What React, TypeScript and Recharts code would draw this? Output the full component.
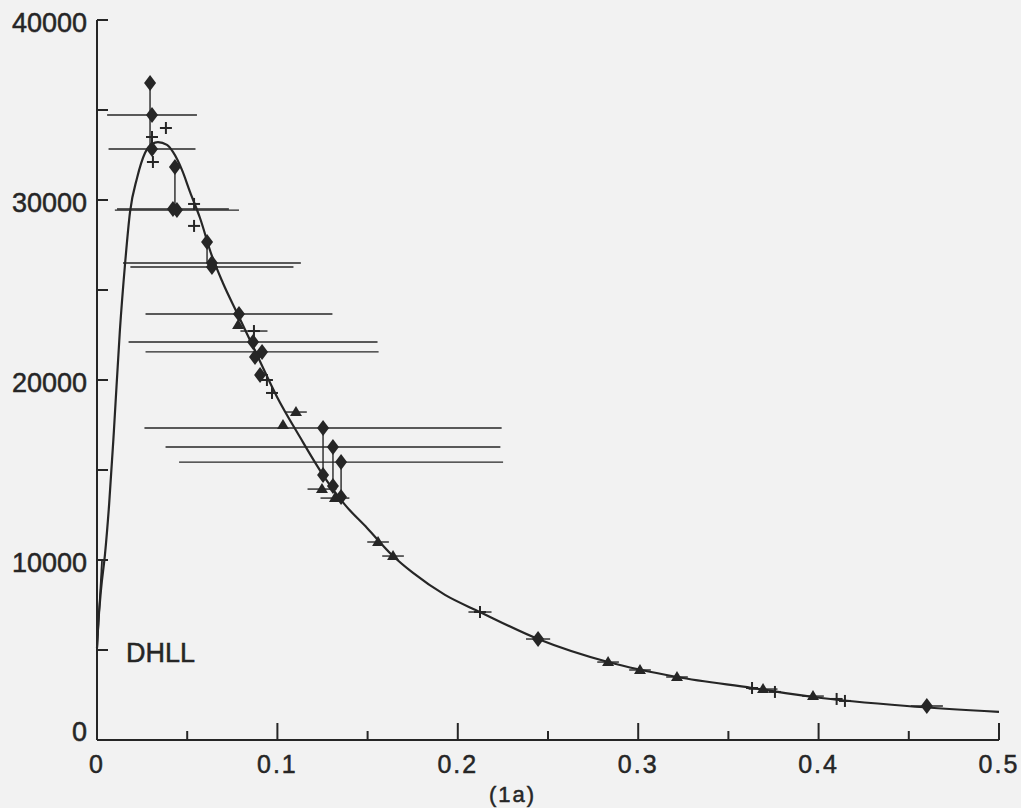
import { ComposedChart, Line, Scatter, ErrorBar, XAxis, YAxis } from "recharts";

// fitted curve through the points
const curve = [
  { x: 0, y: 5110 }, { x: 0.0006, y: 6280 }, { x: 0.0022, y: 8330 }, { x: 0.0044, y: 10280 },
  { x: 0.0067, y: 13060 }, { x: 0.0094, y: 17220 }, { x: 0.0127, y: 22780 }, { x: 0.0155, y: 26390 },
  { x: 0.0183, y: 29330 }, { x: 0.0222, y: 31220 }, { x: 0.0266, y: 32610 }, { x: 0.0305, y: 33110 },
  { x: 0.0338, y: 33220 }, { x: 0.0388, y: 33060 }, { x: 0.0421, y: 32670 }, { x: 0.0471, y: 31670 },
  { x: 0.0516, y: 30440 }, { x: 0.0571, y: 29000 }, { x: 0.0637, y: 26890 }, { x: 0.0698, y: 25390 },
  { x: 0.0782, y: 23610 }, { x: 0.0887, y: 21390 }, { x: 0.0998, y: 19060 }, { x: 0.1125, y: 16830 },
  { x: 0.1253, y: 14720 }, { x: 0.1375, y: 13060 }, { x: 0.1497, y: 11780 }, { x: 0.1641, y: 10220 },
  { x: 0.1752, y: 9280 }, { x: 0.1929, y: 8060 }, { x: 0.2123, y: 7110 }, { x: 0.2445, y: 5610 },
  { x: 0.2833, y: 4330 }, { x: 0.3215, y: 3500 }, { x: 0.3631, y: 2890 }, { x: 0.3969, y: 2390 },
  { x: 0.449, y: 1890 }, { x: 0.5, y: 1560 },
];

// limiting law tangent near the origin
const dhll = [{ x: 0, y: 5000 }, { x: 0.0028, y: 10000 }];

const diamonds = [
  { x: 0.0294, y: 36500, ey: [3670, 0] },
  { x: 0.0305, y: 34720, ex: 0.0249 },
  { x: 0.0305, y: 32830, ex: 0.0241 },
  { x: 0.0432, y: 31830, ey: [2390, 0] },
  { x: 0.0443, y: 29440, ex: 0.0344 },
  { x: 0.0421, y: 29500, ex: 0.031 },
  { x: 0.061, y: 27670, ey: [1170, 0] },
  { x: 0.0637, y: 26500, ex: 0.0493 },
  { x: 0.0637, y: 26280, ex: 0.0452 },
  { x: 0.0787, y: 23670, ex: 0.0518 },
  { x: 0.0865, y: 22110, ex: 0.069 },
  { x: 0.0915, y: 21560, ex: 0.0646 },
  { x: 0.0876, y: 21280 },
  { x: 0.0904, y: 20280 },
  { x: 0.1253, y: 17330, ex: 0.099, ey: [2610, 0] },
  { x: 0.1308, y: 16280, ex: 0.0928, ey: [2170, 0] },
  { x: 0.1353, y: 15440, ex: 0.0898, ey: [1940, 0] },
  { x: 0.1253, y: 14720 },
  { x: 0.1308, y: 14110 },
  { x: 0.1353, y: 13500 },
  { x: 0.2445, y: 5610, ex: 0.0067 },
  { x: 0.46, y: 1890, ex: 0.0089 },
];

const pluses = [
  { x: 0.0382, y: 34000 },
  { x: 0.0305, y: 33500 },
  { x: 0.031, y: 32110 },
  { x: 0.0538, y: 29780 },
  { x: 0.0538, y: 28560 },
  { x: 0.087, y: 22720, ex: 0.0075 },
  { x: 0.0942, y: 20000 },
  { x: 0.097, y: 19280 },
  { x: 0.2123, y: 7110, ex: 0.0064 },
  { x: 0.3631, y: 2890 },
  { x: 0.3758, y: 2670 },
  { x: 0.41, y: 2280 },
  { x: 0.4146, y: 2170 },
];

const triangles = [
  { x: 0.0782, y: 23060 },
  { x: 0.1103, y: 18220, ex: 0.006 },
  { x: 0.1031, y: 17500 },
  { x: 0.1247, y: 13940, ex: 0.008 },
  { x: 0.1319, y: 13440, ex: 0.008 },
  { x: 0.1558, y: 11000, ex: 0.006 },
  { x: 0.1641, y: 10220, ex: 0.006 },
  { x: 0.2833, y: 4330, ex: 0.006 },
  { x: 0.301, y: 3890, ex: 0.006 },
  { x: 0.3215, y: 3500, ex: 0.006 },
  { x: 0.3692, y: 2830, ex: 0.008 },
  { x: 0.3969, y: 2440, ex: 0.006 },
];

const xTicks = [0, 0.05, 0.1, 0.15, 0.2, 0.25, 0.3, 0.35, 0.4, 0.45, 0.5];
const yTicks = [0, 5000, 10000, 15000, 20000, 25000, 30000, 35000, 40000];

const INK = "#262626";
const FONT = "'Liberation Sans', Arial, sans-serif";

const isMajorX = (v: number) => Math.abs(v * 10 - Math.round(v * 10)) < 1e-6;
const isMajorY = (v: number) => v % 10000 === 0;

const BottomTick = ({ x, y, payload }: any) => {
  const major = isMajorX(payload.value);
  return (
    <g>
      <line x1={x} x2={x} y1={y} y2={y - (major ? 17 : 9)} stroke={INK} strokeWidth={2} />
      {major && (
        <text x={x} y={y + 33} textAnchor="middle" fontSize={25} letterSpacing={2} fill={INK} stroke={INK} strokeWidth={0.5} fontFamily={FONT}>
          {payload.value === 0 ? "0" : String(payload.value)}
        </text>
      )}
    </g>
  );
};

const TopTick = ({ x, y, payload }: any) => {
  const major = isMajorX(payload.value);
  return <line x1={x} x2={x} y1={y} y2={y + (major ? 17 : 10)} stroke={INK} strokeWidth={2} />;
};

const LeftTick = ({ x, y, payload }: any) => (
  <g>
    <line x1={x} x2={x + 11} y1={y} y2={y} stroke={INK} strokeWidth={2} />
    {isMajorY(payload.value) && (
      <text x={x - 10} y={y + (payload.value === 0 ? 1 : 12)} textAnchor="end" fontSize={27} fill={INK} stroke={INK} strokeWidth={0.5} fontFamily={FONT}>
        {String(payload.value)}
      </text>
    )}
  </g>
);

const RightTick = ({ x, y }: any) => <line x1={x} x2={x - 11} y1={y} y2={y} stroke={INK} strokeWidth={2} />;

const Diamond = (p: any) => (
  <path d={`M${p.cx},${p.cy - 8} L${p.cx + 6},${p.cy} L${p.cx},${p.cy + 8} L${p.cx - 6},${p.cy} Z`} fill={INK} />
);

const Plus = (p: any) => (
  <g stroke={INK} strokeWidth={2}>
    <line x1={p.cx - 6} x2={p.cx + 6} y1={p.cy} y2={p.cy} />
    <line x1={p.cx} x2={p.cx} y1={p.cy - 6} y2={p.cy + 6} />
  </g>
);

const Triangle = (p: any) => (
  <path d={`M${p.cx},${p.cy - 6} L${p.cx + 6},${p.cy + 4} L${p.cx - 6},${p.cy + 4} Z`} fill={INK} />
);

const overlayText = { position: "absolute" as const, fontFamily: FONT, color: INK, WebkitTextStroke: `0.5px ${INK}` };

export default function App() {
  return (
    <div style={{ position: "fixed", left: 0, top: 0, width: 1021, height: 808, background: "#f2f2f2" }}>
      <ComposedChart width={1021} height={808} margin={{ top: 20, right: 22, left: 17, bottom: 28 }}>
        <XAxis
          dataKey="x"
          type="number"
          domain={[0, 0.5]}
          ticks={xTicks}
          interval={0}
          tickSize={0}
          tickMargin={0}
          tickLine={false}
          tick={BottomTick}
          height={40}
          axisLine={{ stroke: INK, strokeWidth: 2 }}
        />
        <XAxis
          xAxisId="top"
          orientation="top"
          type="number"
          domain={[0, 0.5]}
          ticks={xTicks}
          interval={0}
          tickSize={0}
          tickMargin={0}
          tickLine={false}
          tick={TopTick}
          height={0}
          axisLine={{ stroke: INK, strokeWidth: 2 }}
        />
        <YAxis
          dataKey="y"
          type="number"
          domain={[0, 40000]}
          ticks={yTicks}
          interval={0}
          tickSize={0}
          tickMargin={0}
          tickLine={false}
          tick={LeftTick}
          width={80}
          axisLine={{ stroke: INK, strokeWidth: 2 }}
        />
        <YAxis
          yAxisId="right"
          orientation="right"
          type="number"
          domain={[0, 40000]}
          ticks={yTicks}
          interval={0}
          tickSize={0}
          tickMargin={0}
          tickLine={false}
          tick={RightTick}
          width={0}
          axisLine={{ stroke: INK, strokeWidth: 2 }}
        />
        <Line data={curve} dataKey="y" type="monotone" stroke={INK} strokeWidth={2.2} dot={false} isAnimationActive={false} />
        <Line data={dhll} dataKey="y" type="linear" stroke={INK} strokeWidth={1.8} dot={false} isAnimationActive={false} />
        <Scatter data={diamonds} dataKey="y" shape={Diamond} isAnimationActive={false}>
          <ErrorBar dataKey="ex" direction="x" width={0} stroke={INK} strokeWidth={1.4} />
          <ErrorBar dataKey="ey" direction="y" width={0} stroke={INK} strokeWidth={1.4} />
        </Scatter>
        <Scatter data={pluses} dataKey="y" shape={Plus} isAnimationActive={false}>
          <ErrorBar dataKey="ex" direction="x" width={0} stroke={INK} strokeWidth={1.4} />
        </Scatter>
        <Scatter data={triangles} dataKey="y" shape={Triangle} isAnimationActive={false}>
          <ErrorBar dataKey="ex" direction="x" width={0} stroke={INK} strokeWidth={1.4} />
        </Scatter>
      </ComposedChart>
      <div style={{ ...overlayText, left: 126, top: 640, fontSize: 27, lineHeight: "27px" }}>DHLL</div>
      <div style={{ ...overlayText, left: 489, top: 784, fontSize: 22, lineHeight: "22px", letterSpacing: 2 }}>(1a)</div>
    </div>
  );
}
